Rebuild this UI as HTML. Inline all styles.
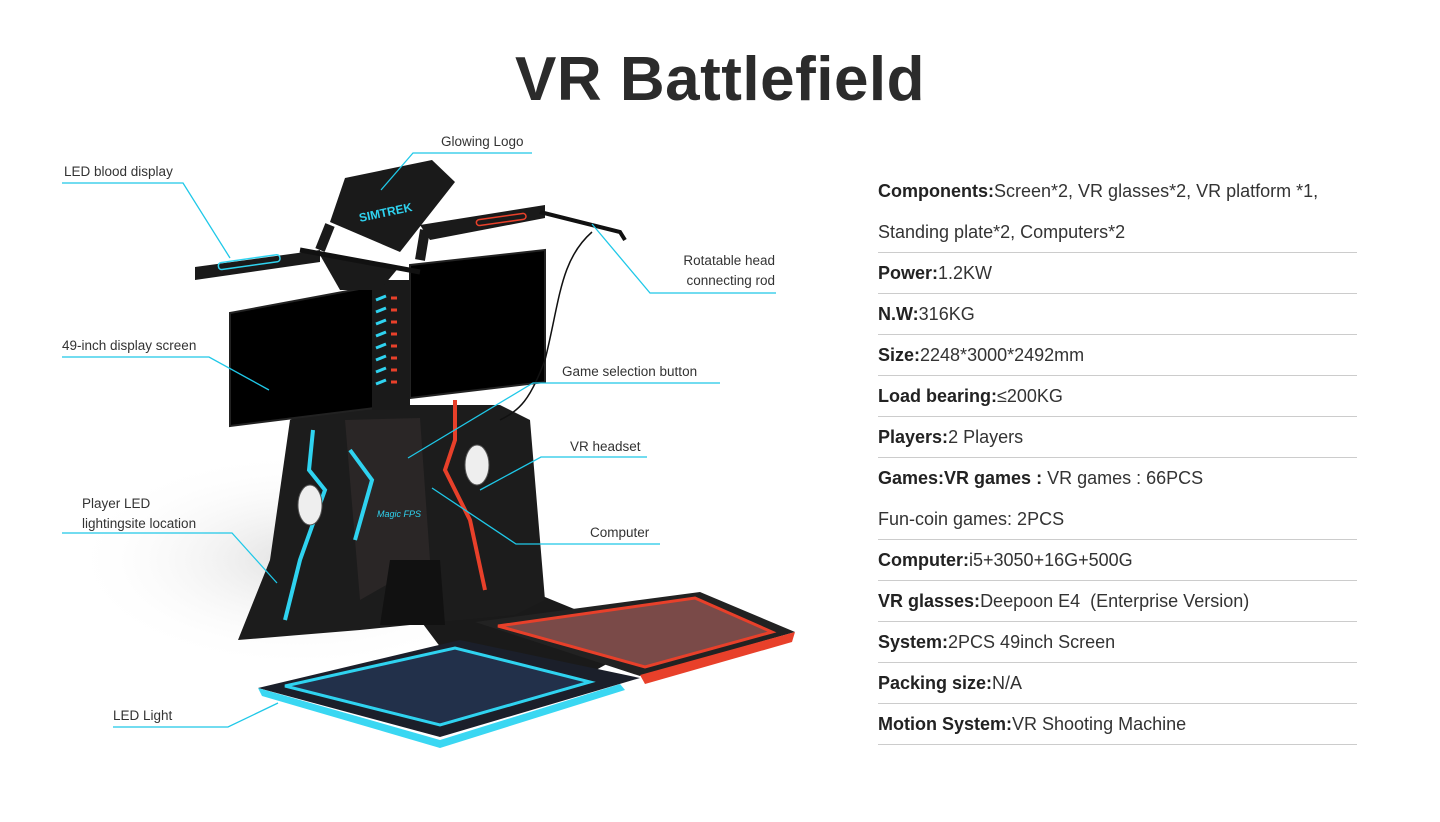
<!DOCTYPE html>
<html><head><meta charset="utf-8">
<style>
html,body{margin:0;padding:0;}
body{width:1440px;height:822px;background:#fff;position:relative;overflow:hidden;font-family:"Liberation Sans",sans-serif;}
h1{position:absolute;left:0;width:1440px;top:44px;margin:0;text-align:center;font-size:62px;font-weight:bold;color:#2b2b2b;letter-spacing:0.5px;}
.spec{position:absolute;left:878px;width:479px;font-size:18px;color:#333;}
.spec div{height:40px;line-height:40px;border-bottom:1px solid #ccc;white-space:nowrap;}
.spec div.nb{border-bottom:none;height:41px;}
.spec b{color:#222;}
.lbl{position:absolute;font-size:13.5px;color:#333;white-space:nowrap;}
</style></head><body>
<h1>VR Battlefield</h1>

<svg width="1440" height="822" style="position:absolute;left:0;top:0">
<defs>
<radialGradient id="sh" cx="0.5" cy="0.5" r="0.5"><stop offset="0" stop-color="#ccc"/><stop offset="1" stop-color="#fff" stop-opacity="0"/></radialGradient>
</defs>
<ellipse cx="300" cy="560" rx="230" ry="110" fill="url(#sh)" opacity="0.6"/>
<!-- connecting floor -->
<polygon points="420,620 540,595 650,640 560,690 450,660" fill="#1a1a1a"/>
<!-- red mat -->
<polygon points="475,622 700,592 795,632 640,676" fill="#222"/>
<polygon points="498,626 695,598 772,632 645,667" fill="#7a4a48" stroke="#e8402a" stroke-width="3"/>
<polygon points="640,675 795,632 792,642 645,684" fill="#e8402a"/>
<!-- blue mat -->
<polygon points="258,688 440,737 640,678 460,640" fill="#1b1f2a"/>
<polygon points="285,686 440,725 590,682 455,648" fill="#22304a" stroke="#2fd3f0" stroke-width="3"/>
<polygon points="258,688 440,740 620,684 625,690 440,748 262,696" fill="#3ad7f2"/>
<!-- pedestal -->
<polygon points="238,640 270,560 290,420 320,405 500,405 530,420 545,600 515,615 440,622 360,630" fill="#1c1c1c"/>
<polygon points="345,420 420,418 430,560 360,600" fill="#2a2626"/>
<polygon points="390,560 440,560 445,625 380,625" fill="#111"/>
<polyline points="313,430 309,470 325,490 300,560 285,620" fill="none" stroke="#2fd3f0" stroke-width="4"/>
<polyline points="350,450 372,480 355,540" fill="none" stroke="#2fd3f0" stroke-width="4"/>
<polyline points="455,400 455,440 445,470 470,520 485,590" fill="none" stroke="#e8402a" stroke-width="4"/>
<text x="377" y="517" fill="#2fd3f0" font-size="9" font-style="italic" font-family="Liberation Sans">Magic FPS</text>
<!-- screens -->
<polygon points="230,313 375,286 375,408 230,426" fill="#000" stroke="#222" stroke-width="2"/>
<polygon points="410,265 545,250 545,382 410,398" fill="#000" stroke="#222" stroke-width="2"/>
<rect x="372" y="280" width="38" height="130" fill="#1a1a1a"/>
<g stroke-width="3">
<line x1="376" y1="300" x2="386" y2="296" stroke="#2fd3f0"/><line x1="376" y1="312" x2="386" y2="308" stroke="#2fd3f0"/>
<line x1="376" y1="324" x2="386" y2="320" stroke="#2fd3f0"/><line x1="376" y1="336" x2="386" y2="332" stroke="#2fd3f0"/>
<line x1="376" y1="348" x2="386" y2="344" stroke="#2fd3f0"/><line x1="376" y1="360" x2="386" y2="356" stroke="#2fd3f0"/>
<line x1="376" y1="372" x2="386" y2="368" stroke="#2fd3f0"/><line x1="376" y1="384" x2="386" y2="380" stroke="#2fd3f0"/>
<line x1="391" y1="298" x2="397" y2="298" stroke="#e8402a"/><line x1="391" y1="310" x2="397" y2="310" stroke="#e8402a"/>
<line x1="391" y1="322" x2="397" y2="322" stroke="#e8402a"/><line x1="391" y1="334" x2="397" y2="334" stroke="#e8402a"/>
<line x1="391" y1="346" x2="397" y2="346" stroke="#e8402a"/><line x1="391" y1="358" x2="397" y2="358" stroke="#e8402a"/>
<line x1="391" y1="370" x2="397" y2="370" stroke="#e8402a"/><line x1="391" y1="382" x2="397" y2="382" stroke="#e8402a"/>
</g>
<!-- top arms -->
<polygon points="195,267 320,250 320,262 195,280" fill="#1a1a1a"/>
<polygon points="320,255 400,266 380,290 340,290" fill="#1a1a1a"/>
<polygon points="420,225 545,205 545,218 430,240" fill="#1a1a1a"/>
<polyline points="300,250 420,272" stroke="#111" stroke-width="5"/>
<polyline points="540,212 620,232 625,240" stroke="#111" stroke-width="4" fill="none"/>
<polyline points="330,225 320,250" stroke="#1a1a1a" stroke-width="10"/>
<polyline points="425,230 420,260" stroke="#1a1a1a" stroke-width="10"/>
<polygon points="345,178 432,160 455,182 400,252 330,222" fill="#1a1a1a"/>
<text x="360" y="222" fill="#2fd3f0" font-size="12" font-weight="bold" transform="rotate(-12 360 222)">SIMTREK</text>
<rect x="218" y="263" width="62" height="7" rx="3" fill="none" stroke="#2fd3f0" stroke-width="1.5" transform="rotate(-8 218 263)"/>
<rect x="476" y="220" width="50" height="6" rx="3" fill="none" stroke="#e8402a" stroke-width="1.5" transform="rotate(-8 476 220)"/>
<path d="M592,232 C560,260 560,300 545,360 C530,400 520,410 500,420" fill="none" stroke="#111" stroke-width="1.5"/>
<!-- headsets -->
<ellipse cx="477" cy="465" rx="12" ry="20" fill="#eee" stroke="#555"/>
<ellipse cx="310" cy="505" rx="12" ry="20" fill="#eee" stroke="#555"/>
<!-- callouts -->
<g stroke="#1fc8e8" stroke-width="1.3" fill="none">
<polyline points="62,183 183,183 230,258"/>
<polyline points="532,153 413,153 381,190"/>
<polyline points="776,293 650,293 592,224"/>
<polyline points="62,357 209,357 269,390"/>
<polyline points="720,383 533,383 408,458"/>
<polyline points="647,457 541,457 480,490"/>
<polyline points="660,544 516,544 432,488"/>
<polyline points="62,533 232,533 277,583"/>
<polyline points="113,727 228,727 278,703"/>
</g>
</svg>

<div class="lbl" style="left:64px;top:164px">LED blood display</div>
<div class="lbl" style="left:441px;top:134px">Glowing Logo</div>
<div class="lbl" style="left:640px;top:251px;text-align:right;width:135px;line-height:20px">Rotatable head<br>connecting rod</div>
<div class="lbl" style="left:62px;top:338px">49-inch display screen</div>
<div class="lbl" style="left:562px;top:364px">Game selection button</div>
<div class="lbl" style="left:570px;top:439px">VR headset</div>
<div class="lbl" style="left:590px;top:525px">Computer</div>
<div class="lbl" style="left:82px;top:494px;line-height:20px">Player LED<br>lightingsite location</div>
<div class="lbl" style="left:113px;top:708px">LED Light</div>

<div class="spec" style="top:171px">
<div class="nb"><b>Components:</b>Screen*2, VR glasses*2, VR platform *1,</div>
<div><span>Standing plate*2, Computers*2</span></div>
<div><b>Power:</b>1.2KW</div>
<div><b>N.W:</b>316KG</div>
<div><b>Size:</b>2248*3000*2492mm</div>
<div><b>Load bearing:</b>≤200KG</div>
<div><b>Players:</b>2 Players</div>
<div class="nb"><b>Games:VR games :</b> VR games : 66PCS</div>
<div>Fun-coin games: 2PCS</div>
<div><b>Computer:</b>i5+3050+16G+500G</div>
<div><b>VR glasses:</b>Deepoon E4&nbsp; (Enterprise Version)</div>
<div><b>System:</b>2PCS 49inch Screen</div>
<div><b>Packing size:</b>N/A</div>
<div><b>Motion System:</b>VR Shooting Machine</div>
</div>
</body></html>
